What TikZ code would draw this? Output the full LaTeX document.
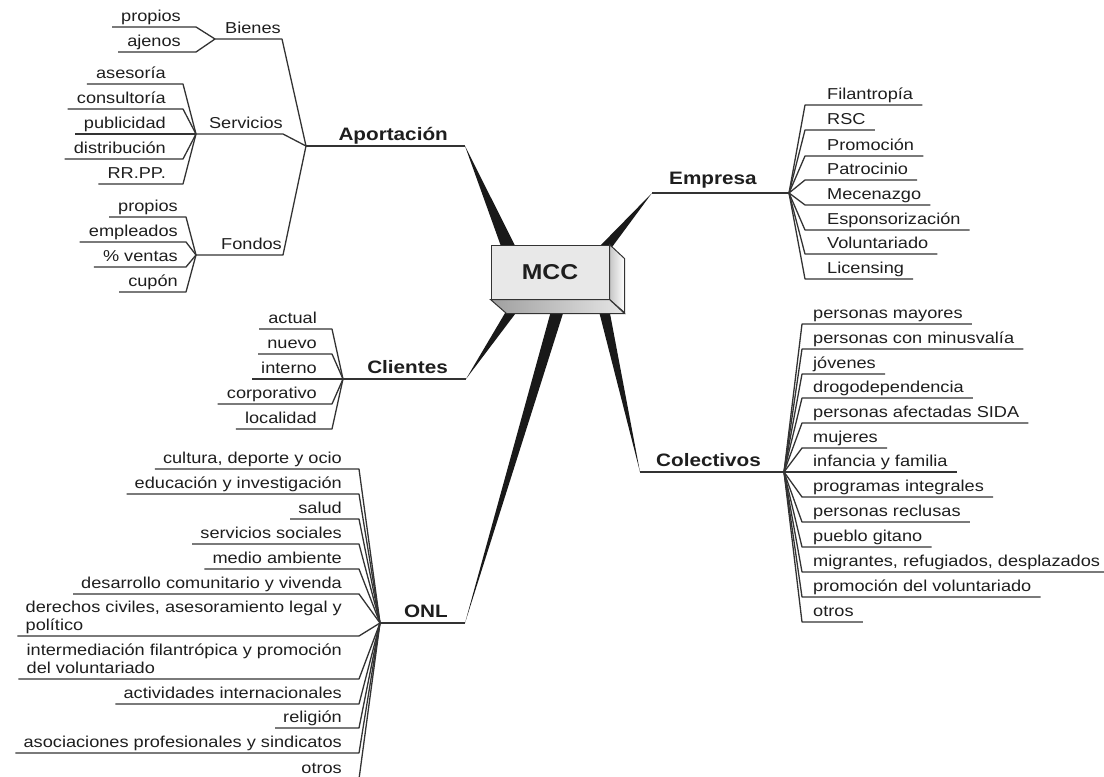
\documentclass[tikz,border=0pt]{standalone}
\usepackage{fontspec}
\setmainfont{Liberation Sans}[FakeStretch=1.15]
\usetikzlibrary{calc,backgrounds}
\definecolor{ink}{HTML}{1E1E1E}
\definecolor{wire}{HTML}{333333}
\begin{document}
\begin{tikzpicture}[x=1pt,y=-1pt,
  branch/.style={draw=wire,line width=1.3pt,line join=round},
  leaf/.style={font=\fontsize{15.8}{18}\selectfont,text=ink,inner xsep=0pt,
    inner ysep=1pt,text depth=4pt,align=left},
  head/.style={leaf,font=\fontsize{18}{20}\selectfont\bfseries},
  wedge/.style={fill=black!90}]
  \useasboundingbox (0,0) rectangle (1104,777);

  % Aportacion
  \coordinate (apo) at (306,146);
  \coordinate (apo-t) at (465,146);
  \node[head,anchor=south east] (apo-l) at (448,146) {Aportación};
  \draw[branch] (apo) -- (apo-t);

  \coordinate (bie) at (215,39);
  \coordinate (bie-b) at (282,39);
  \node[leaf,anchor=south east] (bie-l) at (281,39) {Bienes};
  \draw[branch] (bie) -- (bie-b) -- (apo);
  \foreach \y/\t [count=\i] in {27/propios,52/ajenos}{
    \coordinate (bie-\i) at (196,\y);
    \node[leaf,anchor=south east] (bie-\i-l) at (181,\y) {\t};
    \draw[branch] (bie) -- (bie-\i) -- (bie-\i-l.south west) -- ++(-9,0);
  }

  \coordinate (ser) at (196,134);
  \coordinate (ser-b) at (283,134);
  \node[leaf,anchor=south east] (ser-l) at (283,134) {Servicios};
  \draw[branch] (ser) -- (ser-b) -- (apo);
  \foreach \y/\t [count=\i] in {84/asesoría,109/consultoría,134/publicidad,
      159/distribución,184/RR.PP.}{
    \coordinate (ser-\i) at (183,\y);
    \node[leaf,anchor=south east] (ser-\i-l) at (166,\y) {\t};
    \draw[branch] (ser) -- (ser-\i) -- (ser-\i-l.south west) -- ++(-9,0);
  }

  \coordinate (fon) at (196,255);
  \coordinate (fon-b) at (283,255);
  \node[leaf,anchor=south east] (fon-l) at (282,255) {Fondos};
  \draw[branch] (fon) -- (fon-b) -- (apo);
  \foreach \y/\t [count=\i] in {217/propios,242/empleados,267/\% ventas,292/cupón}{
    \coordinate (fon-\i) at (186,\y);
    \node[leaf,anchor=south east] (fon-\i-l) at (178,\y) {\t};
    \draw[branch] (fon) -- (fon-\i) -- (fon-\i-l.south west) -- ++(-9,0);
  }

  % Clientes
  \coordinate (cli) at (343,379);
  \coordinate (cli-t) at (466,379);
  \node[head,anchor=south east] (cli-l) at (448,379) {Clientes};
  \draw[branch] (cli) -- (cli-t);
  \foreach \y/\t [count=\i] in {329/actual,354/nuevo,379/interno,
      404/corporativo,429/localidad}{
    \coordinate (cli-\i) at (332,\y);
    \node[leaf,anchor=south east] (cli-\i-l) at (317,\y) {\t};
    \draw[branch] (cli) -- (cli-\i) -- (cli-\i-l.south west) -- ++(-9,0);
  }

  % ONL
  \coordinate (onl) at (380,623);
  \coordinate (onl-t) at (465,623);
  \node[head,anchor=south east] (onl-l) at (448,623) {ONL};
  \draw[branch] (onl) -- (onl-t);
  \foreach \y/\t [count=\i] in {469/{cultura, deporte y ocio},
      494/{educación y investigación},519/salud,544/{servicios sociales},
      569/{medio ambiente},594/{desarrollo comunitario y vivenda},
      636/{derechos civiles, asesoramiento legal y\\político},
      679/{intermediación filantrópica y promoción\\del voluntariado},
      704/{actividades internacionales},728/religión,
      753/{asociaciones profesionales y sindicatos},779/otros}{
    \coordinate (onl-\i) at (359,\y);
    \node[leaf,anchor=south east] (onl-\i-l) at (342,\y) {\t};
    \draw[branch] (onl) -- (onl-\i) -- (onl-\i-l.south west) -- ++(-8,0);
  }

  % Empresa
  \coordinate (emp-t) at (652,193);
  \coordinate (emp) at (789,193);
  \node[head,anchor=south west,yshift=3pt] (emp-l) at (669,193) {Empresa};
  \draw[branch] (emp-t) -- (emp);
  \foreach \y/\t [count=\i] in {105/Filantropía,130/RSC,156/Promoción,
      180/Patrocinio,205/Mecenazgo,230/Esponsorización,254/Voluntariado,
      279/Licensing}{
    \coordinate (emp-\i) at (805,\y);
    \node[leaf,anchor=south west] (emp-\i-l) at (827,\y) {\t};
    \draw[branch] (emp) -- (emp-\i) -- (emp-\i-l.south east) -- ++(9,0);
  }

  % Colectivos
  \coordinate (col-t) at (640,472);
  \coordinate (col) at (784,472);
  \node[head,anchor=south west] (col-l) at (656,472) {Colectivos};
  \draw[branch] (col-t) -- (col);
  \foreach \y/\t [count=\i] in {324/personas mayores,349/personas con minusvalía,
      374/jóvenes,398/drogodependencia,423/personas afectadas SIDA,448/mujeres,
      472/infancia y familia,497/programas integrales,522/personas reclusas,
      547/pueblo gitano,572/{migrantes, refugiados, desplazados},
      597/promoción del voluntariado,622/otros}{
    \coordinate (col-\i) at (802,\y);
    \node[leaf,anchor=south west] (col-\i-l) at (813,\y) {\t};
    \draw[branch] (col) -- (col-\i) -- (col-\i-l.south east) -- ++(9,0);
  }

  % MCC box
  \node[draw=wire,line width=1pt,fill=gray!18,minimum width=118pt,
    minimum height=54pt,inner sep=0pt,text=ink,
    font=\fontsize{21.5}{24}\selectfont\bfseries] (mcc) at (550,272) {MCC};
  \draw[wire,line width=1pt,left color=gray!45,right color=white]
    (mcc.north east) -- ++(15,14) -- ++(0,54) -- (mcc.south east) -- cycle;
  \draw[wire,line width=1pt,left color=gray!75,right color=gray!20]
    (mcc.south west) -- (mcc.south east) -- ++(15,14) -- ++(-118,0) -- cycle;

  \begin{scope}[on background layer]
    \fill[wedge] (apo-t) -- ($(mcc.north west)+(12,6)$)
      -- ($(mcc.north west)+(27,6)$) -- cycle;
    \fill[wedge] (emp-t) -- ($(mcc.north east)+(-14,6)$)
      -- ($(mcc.north east)+(0,6)$) -- cycle;
    \fill[wedge] (cli-t) -- ($(mcc.south west)+(19,6)$)
      -- ($(mcc.south west)+(31,6)$) -- cycle;
    \fill[wedge] (onl-t) -- ($(mcc.south west)+(62,6)$)
      -- ($(mcc.south west)+(75,6)$) -- cycle;
    \fill[wedge] (col-t) -- ($(mcc.south west)+(107,6)$)
      -- ($(mcc.south west)+(118,6)$) -- cycle;
  \end{scope}
\end{tikzpicture}
\end{document}
